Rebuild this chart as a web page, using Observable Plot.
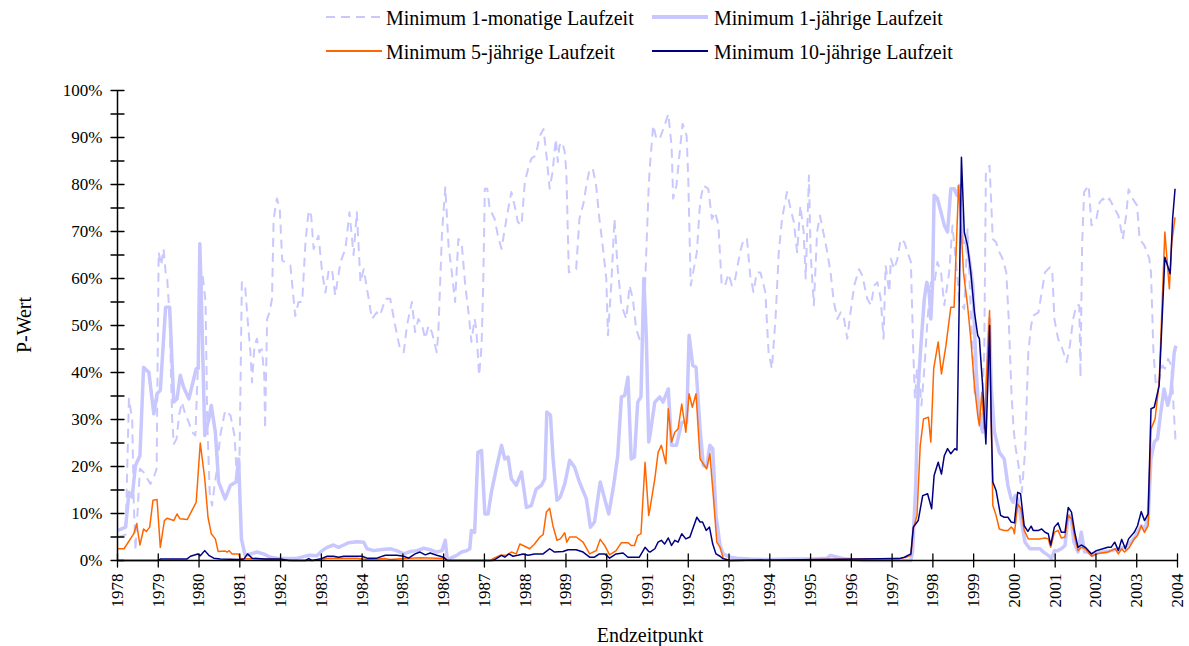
<!DOCTYPE html>
<html><head><meta charset="utf-8">
<script src="https://cdn.jsdelivr.net/npm/d3@7"></script>
<script src="https://cdn.jsdelivr.net/npm/@observablehq/plot@0.6"></script>
<style>
body{margin:0;background:#fff;font-family:"Liberation Serif","Times New Roman",serif;}
#wrap{position:relative;width:1189px;height:646px;overflow:hidden;background:#fff;}
#legend{position:absolute;left:0;top:0;width:1189px;height:70px;}
.item{position:absolute;font-size:20px;line-height:20px;white-space:nowrap;color:#000;}
.sw{position:absolute;}
#chart{position:absolute;left:0;top:70px;}
.alabel{position:absolute;font-size:20px;line-height:20px;white-space:nowrap;color:#000;}
</style></head>
<body><div id="wrap"><div id="legend"></div><div id="chart"></div>
<div class="alabel" id="ylab" style="left:24px;top:325px;transform:translate(-50%,-50%) rotate(-90deg);">P-Wert</div>
<div class="alabel" id="xlab" style="left:650px;top:625px;transform:translateX(-50%);">Endzeitpunkt</div>
</div>
<script>
const seriesNames = ["Minimum 1-monatige Laufzeit","Minimum 1-jährige Laufzeit","Minimum 5-jährige Laufzeit","Minimum 10-jährige Laufzeit"];
const yearTicks = d3.range(1978, 2005);
const pctTicks = d3.range(0, 101, 5);

// [Endzeitpunkt (Jahr), P-Wert in %]
const m1 = [[1978.01,5.0],[1978.20,5.5],[1978.24,20],[1978.28,34.4],[1978.36,30.1],[1978.40,12],[1978.44,2.1],[1978.55,19.5],[1978.64,18.8],[1978.73,17.4],[1978.81,16.3],[1978.89,17.7],[1978.96,19.5],[1979.01,65.6],[1979.07,62.8],[1979.13,66.3],[1979.18,61.3],[1979.22,59.9],[1979.28,51.4],[1979.34,30.1],[1979.38,24.8],[1979.45,25.9],[1979.51,30.9],[1979.58,33.7],[1979.66,31.2],[1979.75,29.4],[1979.83,27.3],[1979.91,26.6],[1979.97,40.8],[1980.03,55.0],[1980.09,60.6],[1980.16,55.0],[1980.20,30.1],[1980.26,14.5],[1980.32,11.7],[1980.38,16.0],[1980.44,19.5],[1980.52,26.6],[1980.64,31.9],[1980.77,30.9],[1980.87,26.6],[1980.93,17.4],[1980.99,19.5],[1981.05,59.2],[1981.13,58.5],[1981.19,51.4],[1981.26,44.3],[1981.30,37.9],[1981.36,45.7],[1981.42,47.2],[1981.48,44.3],[1981.54,45.0],[1981.60,39.4],[1981.62,28.0],[1981.67,51.4],[1981.73,52.8],[1981.79,55.7],[1981.83,72.7],[1981.91,77.0],[1981.98,74.8],[1982.04,63.8],[1982.12,63.5],[1982.24,62.8],
[1982.36,52.0],[1982.44,55.0],[1982.53,55.0],[1982.61,67.7],[1982.69,74.5],[1982.75,73.4],[1982.81,66.3],[1982.93,69.1],[1983.02,61.3],[1983.10,57.0],[1983.18,61.7],[1983.26,62.0],[1983.34,56.4],[1983.47,63.5],[1983.59,66.3],[1983.69,74.1],[1983.79,65.0],[1983.87,74.1],[1983.96,59.2],[1984.04,62.0],[1984.16,55.7],[1984.24,51.4],[1984.36,52.8],[1984.44,52.1],[1984.57,55.7],[1984.69,55.7],[1984.81,50.0],[1984.93,45.0],[1985.02,44.3],[1985.10,50.0],[1985.22,55.0],[1985.30,48.6],[1985.38,51.4],[1985.47,50.0],[1985.55,47.2],[1985.63,50.0],[1985.71,48.6],[1985.83,44.3],[1985.87,48.6],[1985.96,69.9],[1986.04,79.4],[1986.12,67.0],[1986.20,61.3],[1986.28,55.0],[1986.36,68.4],[1986.44,67.7],[1986.53,58.5],[1986.62,52.0],
[1986.68,46.5],[1986.76,51.4],[1986.80,49.3],[1986.87,39.4],[1986.93,45.7],[1986.97,58.5],[1987.01,79.1],[1987.07,79.1],[1987.13,74.8],[1987.25,72.7],[1987.33,69.1],[1987.42,66.3],[1987.54,72.7],[1987.66,78.4],[1987.74,75.5],[1987.82,72.0],[1987.91,71.3],[1987.99,80.5],[1988.07,83.3],[1988.15,85.5],[1988.26,86.2],[1988.36,90.4],[1988.45,91.8],[1988.53,85.5],[1988.60,79.1],[1988.67,82.6],[1988.75,89.7],[1988.80,84.8],[1988.84,88.3],[1988.91,89.0],[1988.97,86.9],[1989.01,82.6],[1989.07,61.3],[1989.17,61.7],[1989.25,62.0],[1989.33,72.7],[1989.43,76.0],[1989.50,79.8],[1989.58,83.3],[1989.66,83.3],[1989.74,79.8],[1989.82,72.7],[1989.91,66.3],[1989.99,59.9],[1990.03,47.9],[1990.11,58.5],[1990.19,72.7],[1990.27,62.0],[1990.36,54.3],[1990.48,51.4],[1990.56,58.5],[1990.64,55.7],[1990.72,49.3],[1990.80,47.2],[1990.89,45.7],[1990.97,65.6],[1991.03,79.8],
[1991.06,84.0],[1991.14,92.6],[1991.22,89.7],[1991.30,89.7],[1991.42,92.6],[1991.51,95.0],[1991.59,88.3],[1991.63,77.0],[1991.71,79.8],[1991.79,86.9],[1991.86,92.9],[1991.96,90.4],[1992.00,81.2],[1992.06,58.5],[1992.12,61.3],[1992.21,65.6],[1992.29,76.2],[1992.37,79.8],[1992.49,79.1],[1992.58,72.7],[1992.66,74.1],[1992.74,71.3],[1992.82,58.5],[1992.90,58.5],[1992.99,61.0],[1993.07,58.5],[1993.15,59.9],[1993.27,65.6],[1993.36,68.4],[1993.44,68.4],[1993.52,60.6],[1993.60,57.1],[1993.68,61.3],[1993.77,61.3],[1993.89,57.1],[1993.97,44.3],[1994.05,40.8],[1994.14,51.4],[1994.22,65.6],[1994.30,72.7],[1994.42,78.4],[1994.51,74.8],[1994.59,72.0],[1994.67,65.6],[1994.75,75.5],[1994.83,69.9],[1994.88,60.0],[1994.96,81.9],[1995.00,65.6],[1995.08,54.3],[1995.16,69.9],[1995.23,73.4],[1995.33,69.1],[1995.41,65.6],[1995.49,61.3],
[1995.57,55.0],[1995.66,51.4],[1995.74,52.8],[1995.82,51.4],[1995.90,47.2],[1995.98,52.8],[1996.07,58.5],[1996.19,62.0],[1996.27,60.6],[1996.39,55.7],[1996.48,54.3],[1996.56,58.5],[1996.64,59.2],[1996.72,55.7],[1996.79,47.2],[1996.84,62.8],[1996.93,57.1],[1996.97,64.2],[1997.05,62.0],[1997.13,64.2],[1997.21,68.4],[1997.30,67.7],[1997.38,65.6],[1997.46,63.5],[1997.52,44.3],[1997.56,34.4],[1997.61,40.8],[1997.66,39.4],[1997.72,33.0],[1997.79,40.8],[1997.87,51.4],[1997.95,59.2],[1998.03,58.5],[1998.11,63.5],[1998.20,61.3],[1998.28,54.3],[1998.40,61.3],[1998.48,71.3],[1998.59,61.3],[1998.65,55.0],[1998.77,53.5],[1998.85,70.5],[1998.93,52.8],[1999.02,35.8],[1999.10,34.4],[1999.18,28.7],[1999.26,44.3],[1999.30,82.6],[1999.39,84.0],[1999.47,68.4],[1999.55,67.7],[1999.63,65.6],[1999.71,64.2],[1999.80,61.3],[1999.86,51.4],
[1999.93,35.1],[1999.98,28.0],[2000.02,24.5],[2000.10,20.2],[2000.18,14.5],[2000.26,23.0],[2000.34,44.3],[2000.41,50.0],[2000.46,52.1],[2000.59,52.8],[2000.67,57.1],[2000.75,61.3],[2000.87,62.4],[2000.93,61.3],[2000.98,51.4],[2001.07,47.2],[2001.15,45.7],[2001.28,42.2],[2001.36,45.7],[2001.44,51.4],[2001.52,54.3],[2001.59,54.3],[2001.62,39.0],[2001.66,67.0],[2001.71,78.4],[2001.82,79.8],[2001.89,71.3],[2002.01,72.7],[2002.09,76.2],[2002.17,77.0],[2002.25,76.2],[2002.33,77.0],[2002.46,74.8],[2002.55,73.4],[2002.66,68.4],[2002.74,73.4],[2002.80,79.0],[2002.90,77.0],[2003.01,75.5],[2003.07,68.4],[2003.19,67.0],[2003.31,64.2],[2003.35,61.3],[2003.41,44.3],[2003.47,37.2],[2003.55,38.3],[2003.63,41.5],[2003.69,40.8],[2003.77,42.9],[2003.85,41.5],[2003.92,30.1],[2003.96,24.5]];

const m12 = [[1978.01,6.4],[1978.20,7.1],[1978.28,14.5],[1978.36,13.5],[1978.44,20.2],[1978.55,22.3],[1978.64,41.1],[1978.77,40.0],[1978.89,31.2],[1978.97,35.5],[1979.05,36.2],[1979.18,53.9],[1979.28,53.9],[1979.38,33.7],[1979.46,34.4],[1979.54,39.4],[1979.62,36.9],[1979.75,34.4],[1979.93,40.8],[1979.98,40.8],[1980.02,67.4],[1980.07,51.4],[1980.14,26.6],[1980.24,30.1],[1980.30,33.0],[1980.40,27.3],[1980.48,16.7],[1980.64,13.1],[1980.77,16.0],[1980.91,16.7],[1980.97,21.6],[1981.04,4.6],[1981.13,1.1],[1981.26,1.4],[1981.42,1.8],[1981.58,1.4],[1981.75,0.7],[1981.99,0.4],[1982.24,0.4],
[1982.36,0.4],[1982.69,1.1],[1982.89,1.0],[1983.02,2.1],[1983.14,2.8],[1983.30,3.3],[1983.42,2.8],[1983.55,3.3],[1983.67,3.8],[1983.87,4.0],[1984.04,3.9],[1984.12,2.5],[1984.28,2.1],[1984.44,2.3],[1984.69,2.5],[1984.85,2.1],[1985.02,1.4],[1985.18,1.9],[1985.34,2.1],[1985.51,2.6],[1985.67,2.3],[1985.83,1.8],[1985.96,2.1],[1986.04,4.3],[1986.09,0.2],[1986.32,1.1],[1986.44,1.8],[1986.57,2.1],[1986.64,2.5],
[1986.68,6.4],[1986.76,6.0],[1986.84,23.0],[1986.93,23.4],[1987.01,9.9],[1987.09,9.9],[1987.17,14.5],[1987.29,19.5],[1987.42,24.5],[1987.50,21.6],[1987.58,22.0],[1987.66,17.4],[1987.78,16.0],[1987.91,18.8],[1988.03,11.3],[1988.15,11.7],[1988.27,15.2],[1988.40,16.0],[1988.48,17.4],[1988.53,31.6],[1988.62,30.9],[1988.68,22.0],[1988.78,12.8],[1988.86,13.5],[1988.97,16.3],[1989.09,21.3],[1989.21,19.9],[1989.33,16.7],[1989.50,13.1],[1989.60,7.1],[1989.70,8.2],[1989.84,16.7],[1989.95,13.1],[1990.05,9.9],[1990.17,16.0],[1990.27,22.3],[1990.36,34.8],[1990.44,35.1],[1990.52,39.0],[1990.60,21.6],[1990.68,22.0],[1990.76,33.7],[1990.84,34.8],[1990.91,60.0],[1990.97,47.9],[1991.03,25.2],
[1991.06,26.6],[1991.18,33.7],[1991.30,34.8],[1991.38,33.7],[1991.51,36.5],[1991.59,24.5],[1991.71,24.5],[1991.84,29.4],[1991.96,29.4],[1992.02,47.9],[1992.11,41.5],[1992.19,41.1],[1992.29,28.0],[1992.37,20.2],[1992.45,19.9],[1992.53,24.5],[1992.60,23.8],[1992.68,9.6],[1992.78,3.2],[1992.86,1.4],[1993.03,0.7],[1993.19,0.5],[1993.52,0.3],[1993.93,0.2],[1994.59,0.3],[1995.00,0.3],[1995.41,0.5],
[1995.49,1.1],[1995.66,0.7],[1995.82,0.4],[1996.31,0],[1997.46,0],[1997.50,1.8],[1997.58,16.0],[1997.64,37.2],[1997.70,45.0],[1997.79,55.7],[1997.85,59.2],[1997.91,57.0],[1997.95,51.4],[1997.99,58.5],[1998.03,77.7],[1998.11,77.0],[1998.20,74.1],[1998.28,71.3],[1998.36,69.9],[1998.44,79.1],[1998.52,79.1],[1998.59,77.7],[1998.65,79.8],[1998.73,67.7],[1998.81,67.7],[1998.89,64.2],[1998.98,58.5],[1999.06,40.8],[1999.14,30.1],[1999.22,27.3],[1999.30,33.0],[1999.39,51.4],[1999.43,37.2],[1999.51,27.3],[1999.63,23.0],[1999.75,21.6],[1999.84,16.0],[1999.92,13.1],
[1999.97,12.4],[2000.02,13.8],[2000.08,13.1],[2000.16,8.9],[2000.26,3.9],[2000.38,2.5],[2000.50,2.5],[2000.63,2.5],[2000.71,1.8],[2000.83,1.1],[2000.91,0.4],[2000.98,2.1],[2001.06,2.1],[2001.15,2.5],[2001.24,3.2],[2001.32,9.6],[2001.38,9.6],[2001.46,3.9],[2001.56,1.8],[2001.64,6.0],[2001.72,1.8],[2001.80,1.8],[2001.93,1.1],[2002.05,1.8],[2002.21,1.8],[2002.37,2.1],[2002.54,2.5],[2002.70,2.8],[2002.86,3.9],[2002.98,5.3],[2003.11,7.4],[2003.19,6.7],[2003.28,8.9],[2003.35,21.6],[2003.43,25.2],[2003.51,25.9],[2003.59,31.6],[2003.67,36.5],[2003.76,33.0],[2003.84,35.8],[2003.92,44.3],[2003.96,45.7]];

const m5 = [[1978.01,2.5],[1978.16,2.5],[1978.40,5.7],[1978.47,7.8],[1978.55,3.3],[1978.64,6.7],[1978.71,6.2],[1978.79,7.1],[1978.87,12.8],[1978.97,13.0],[1979.05,2.8],[1979.15,8.5],[1979.22,9.0],[1979.38,8.5],[1979.46,9.9],[1979.53,8.9],[1979.71,8.7],[1979.93,12.4],[1980.03,25.0],[1980.14,17.4],[1980.22,9.2],[1980.30,5.7],[1980.40,4.6],[1980.47,1.9],[1980.64,2.0],[1980.69,1.8],[1980.74,2.1],[1980.81,1.4],[1980.97,1.4],[1981.01,0.4],[1981.50,0.3],[1982.00,0.2],[1982.30,0],
[1982.80,0],[1983.00,0.2],[1983.14,0.5],[1983.87,0.5],[1984.12,0.2],[1984.57,0.4],[1984.69,0.2],[1985.02,0.4],[1985.18,0.5],[1985.42,0.6],[1985.83,0.5],[1986.04,0.4],[1986.09,0],[1987.15,0],
[1987.21,0.4],[1987.38,1.1],[1987.54,1.1],[1987.66,1.8],[1987.78,1.4],[1987.87,3.5],[1987.95,3.2],[1988.11,2.5],[1988.23,3.5],[1988.36,5.0],[1988.44,5.5],[1988.52,10.3],[1988.60,11.1],[1988.68,7.4],[1988.78,4.3],[1988.86,4.6],[1988.97,5.9],[1989.02,3.9],[1989.09,5.0],[1989.25,5.0],[1989.42,3.9],[1989.58,1.4],[1989.74,2.1],[1989.84,4.5],[1989.95,3.2],[1990.07,1.2],[1990.23,2.1],[1990.36,3.8],[1990.52,3.8],[1990.60,3.2],[1990.68,3.2],[1990.76,5.3],[1990.84,5.7],[1990.94,20.9],[1991.03,9.6],
[1991.06,11.0],[1991.18,17.4],[1991.26,23.0],[1991.34,24.5],[1991.45,20.6],[1991.51,32.3],[1991.59,25.2],[1991.67,27.3],[1991.75,28.0],[1991.84,33.3],[1991.94,27.3],[1992.02,35.5],[1992.10,32.6],[1992.19,35.5],[1992.29,21.6],[1992.45,19.5],[1992.53,22.7],[1992.62,13.1],[1992.70,3.9],[1992.78,2.8],[1992.86,0.4],[1993.03,0],
[1997.17,0.4],[1997.34,0.7],[1997.46,1.1],[1997.52,6.7],[1997.61,9.6],[1997.69,24.5],[1997.77,30.1],[1997.89,30.5],[1997.95,25.2],[1998.02,40.8],[1998.13,46.5],[1998.21,39.7],[1998.32,45.7],[1998.44,53.9],[1998.52,53.9],[1998.63,79.8],[1998.69,71.3],[1998.75,61.3],[1998.85,54.3],[1998.93,47.2],[1999.02,37.2],[1999.10,30.9],[1999.14,28.7],[1999.20,35.8],[1999.26,28.0],[1999.39,53.2],[1999.43,30.0],[1999.47,11.7],[1999.55,9.6],[1999.63,6.7],[1999.75,6.4],[1999.84,6.4],[1999.92,7.1],
[1999.97,6.7],[2000.00,5.7],[2000.08,12.0],[2000.16,11.0],[2000.24,6.4],[2000.34,4.6],[2000.46,4.6],[2000.63,4.6],[2000.75,4.8],[2000.83,4.6],[2000.89,2.8],[2000.98,6.0],[2001.07,6.4],[2001.15,4.8],[2001.24,5.0],[2001.32,9.6],[2001.40,8.9],[2001.48,5.0],[2001.56,2.1],[2001.64,2.8],[2001.74,2.5],[2001.89,0.9],[2002.01,1.4],[2002.13,1.6],[2002.29,1.8],[2002.37,2.1],[2002.47,2.5],[2002.55,1.4],[2002.63,2.5],[2002.70,1.8],[2002.82,2.8],[2002.94,4.6],[2003.02,5.3],[2003.11,7.4],[2003.19,6.0],[2003.28,7.4],[2003.35,28.0],[2003.45,30.1],[2003.55,37.9],[2003.69,69.9],[2003.80,57.8],[2003.86,67.7],[2003.94,73.0]];

const m10 = [[1978.01,0],[1979.00,0],[1979.05,0.3],[1979.70,0.3],[1979.79,0.9],[1979.97,1.4],[1980.03,1.0],[1980.14,2.1],[1980.24,1.1],[1980.36,0.5],[1980.52,0.3],[1981.00,0.2],[1981.10,0.3],[1981.19,1.4],[1981.30,0.5],[1981.60,0.3],[1982.00,0.3],[1982.20,0],
[1982.61,0],[1982.69,0.4],[1982.77,0],[1983.00,0.4],[1983.14,0.9],[1983.30,0.9],[1983.42,0.7],[1983.55,0.9],[1984.00,0.9],[1984.12,0.5],[1984.36,0.5],[1984.57,1.1],[1984.85,1.1],[1985.02,0.9],[1985.14,0.5],[1985.30,1.4],[1985.42,1.8],[1985.55,1.2],[1985.67,1.6],[1985.83,1.1],[1986.00,0.7],[1986.09,0],
[1987.21,0],[1987.29,0.4],[1987.42,1.1],[1987.50,0.7],[1987.60,1.4],[1987.70,0.9],[1987.82,1.1],[1987.95,1.4],[1988.07,1.1],[1988.23,1.4],[1988.44,1.4],[1988.60,2.5],[1988.72,1.8],[1988.93,1.9],[1989.05,2.3],[1989.25,2.3],[1989.42,1.8],[1989.58,0.7],[1989.70,0.7],[1989.82,1.4],[1989.95,1.4],[1990.07,0.5],[1990.23,1.4],[1990.40,1.6],[1990.52,0.7],[1990.80,0.7],[1990.94,2.8],[1991.03,1.9],
[1991.06,1.8],[1991.18,2.5],[1991.26,3.9],[1991.34,4.3],[1991.42,3.5],[1991.51,4.8],[1991.59,3.2],[1991.67,4.3],[1991.75,3.9],[1991.84,5.7],[1991.94,4.6],[1992.04,5.0],[1992.21,9.2],[1992.29,8.2],[1992.35,8.2],[1992.44,6.4],[1992.52,7.1],[1992.60,3.5],[1992.68,1.4],[1992.78,0.9],[1992.85,0.4],[1993.03,0],
[1997.17,0.4],[1997.30,0.7],[1997.46,1.4],[1997.52,7.1],[1997.64,8.5],[1997.75,13.8],[1997.87,14.2],[1997.97,11.0],[1998.03,18.1],[1998.13,20.9],[1998.21,18.4],[1998.28,22.3],[1998.36,23.8],[1998.44,22.7],[1998.54,23.8],[1998.59,23.5],[1998.70,85.8],[1998.77,69.9],[1998.85,67.0],[1998.93,61.3],[1999.02,52.8],[1999.10,47.9],[1999.14,47.2],[1999.22,37.2],[1999.30,24.8],[1999.39,50.0],[1999.43,30.0],[1999.47,16.7],[1999.55,14.9],[1999.66,9.6],[1999.75,9.2],[1999.84,9.2],[1999.92,8.2],
[2000.00,8.0],[2000.08,14.5],[2000.15,14.2],[2000.24,7.4],[2000.33,6.2],[2000.41,7.3],[2000.46,6.4],[2000.59,6.4],[2000.67,6.7],[2000.75,6.0],[2000.83,5.7],[2000.89,3.3],[2000.98,7.1],[2001.07,8.0],[2001.15,6.0],[2001.24,6.0],[2001.32,11.3],[2001.40,10.3],[2001.48,6.0],[2001.56,2.8],[2001.64,3.3],[2001.74,2.8],[2001.89,1.4],[2002.01,2.1],[2002.17,2.5],[2002.29,2.8],[2002.37,2.8],[2002.46,3.9],[2002.55,2.1],[2002.63,4.5],[2002.72,2.5],[2002.80,4.6],[2002.94,6.0],[2003.02,7.4],[2003.11,10.4],[2003.19,8.5],[2003.28,9.9],[2003.35,32.3],[2003.43,32.6],[2003.55,37.2],[2003.69,64.5],[2003.82,61.0],[2003.88,72.7],[2003.94,79.1]];

const seriesData = [m1, m12, m5, m10];
const seriesStyle = [
  {stroke: "#c8c8ff", strokeWidth: 2, dash: "9,6", legendWidth: 2},
  {stroke: "#c8c8ff", strokeWidth: 3.5, dash: null, legendWidth: 4},
  {stroke: "#ff6600", strokeWidth: 1.5, dash: null, legendWidth: 2},
  {stroke: "#000080", strokeWidth: 1.5, dash: null, legendWidth: 2}
];

// legend (2 x 2)
const legend = document.getElementById("legend");
const lgPos = [[326, 386, 8], [652, 714, 8], [326, 386, 42], [652, 714, 42]];
seriesNames.forEach((name, i) => {
  const [sx, tx, top] = lgPos[i];
  const st = seriesStyle[i];
  const ns = "http://www.w3.org/2000/svg";
  const svg = document.createElementNS(ns, "svg");
  svg.setAttribute("class", "sw");
  svg.setAttribute("width", 56); svg.setAttribute("height", 10);
  svg.style.left = sx + "px"; svg.style.top = (top + 4) + "px";
  const ln = document.createElementNS(ns, "line");
  ln.setAttribute("x1", 0); ln.setAttribute("x2", 56);
  ln.setAttribute("y1", 5); ln.setAttribute("y2", 5);
  ln.setAttribute("stroke", st.stroke);
  ln.setAttribute("stroke-width", st.legendWidth);
  if (st.dash) ln.setAttribute("stroke-dasharray", st.dash);
  svg.appendChild(ln);
  legend.appendChild(svg);
  const t = document.createElement("div");
  t.className = "item"; t.textContent = name;
  t.style.left = tx + "px"; t.style.top = top + "px";
  legend.appendChild(t);
});

const lineMarks = seriesData.map((data, i) => Plot.line(data, {
  x: d => d[0], y: d => d[1],
  stroke: seriesStyle[i].stroke, strokeWidth: seriesStyle[i].strokeWidth,
  strokeDasharray: seriesStyle[i].dash || undefined,
  strokeLinejoin: "round", strokeLinecap: "butt"
}));

// straight tick shape (no arrow head) for crossing axis ticks
const tickShape = {draw(context, l) { context.moveTo(0, 0); context.lineTo(0, -l); }};

const chart = Plot.plot({
  width: 1189, height: 576,
  marginLeft: 117, marginRight: 12, marginTop: 20, marginBottom: 86,
  style: {fontFamily: '"Liberation Serif","Times New Roman",serif', fontSize: "17px", background: "white", color: "black", overflow: "visible"},
  x: {domain: [1978, 2004]},
  y: {domain: [0, 100]},
  marks: [
    ...lineMarks,
    Plot.ruleY([0], {stroke: "black", strokeWidth: 1.5}),
    Plot.ruleX([1978], {stroke: "black", strokeWidth: 1.5}),
    Plot.vector(pctTicks, {x: () => 1978, y: d => d, length: 13, rotate: 90, anchor: "middle", shape: tickShape, stroke: "black", strokeWidth: 1.3}),
    Plot.vector(yearTicks, {x: d => d, y: () => 0, length: 13, rotate: 0, anchor: "middle", shape: tickShape, stroke: "black", strokeWidth: 1.3}),
    Plot.axisY({ticks: pctTicks, tickFormat: d => d % 10 === 0 ? d + "%" : "", tickSize: 0, tickPadding: 15, label: null}),
    Plot.axisX({ticks: yearTicks, tickFormat: d => String(d), tickRotate: -90, tickSize: 0, tickPadding: 13, label: null})
  ]
});
document.getElementById("chart").appendChild(chart);
</script>
</body></html>
